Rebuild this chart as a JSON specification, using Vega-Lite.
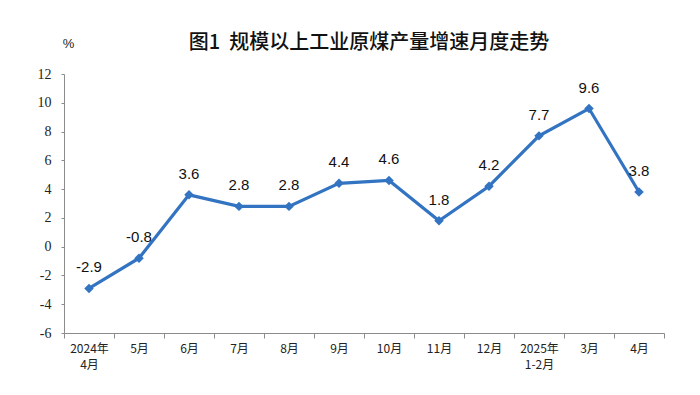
{
  "$schema": "https://vega.github.io/schema/vega-lite/v6.json",
  "width": 600,
  "height": 259,
  "autosize": "none",
  "padding": {"left": 64, "top": 74, "right": 36, "bottom": 62},
  "background": "white",
  "title": {
    "text": "图1\u00a0\u00a0规模以上工业原煤产量增速月度走势",
    "font": "Noto Sans CJK SC",
    "fontSize": 20,
    "fontWeight": 500,
    "color": "#111111",
    "anchor": "middle",
    "dx": 5,
    "offset": -16
  },
  "config": {"view": {"stroke": null}},
  "data": {
    "values": [
      {"m": "2024年\n4月", "v": -2.9},
      {"m": "5月", "v": -0.8},
      {"m": "6月", "v": 3.6},
      {"m": "7月", "v": 2.8},
      {"m": "8月", "v": 2.8},
      {"m": "9月", "v": 4.4},
      {"m": "10月", "v": 4.6},
      {"m": "11月", "v": 1.8},
      {"m": "12月", "v": 4.2},
      {"m": "2025年\n1-2月", "v": 7.7},
      {"m": "3月", "v": 9.6},
      {"m": "4月", "v": 3.8}
    ]
  },
  "encoding": {
    "x": {
      "field": "m",
      "type": "ordinal",
      "sort": null,
      "scale": {"paddingInner": 0, "paddingOuter": 0},
      "axis": {
        "title": null,
        "labelAngle": 0,
        "labelFont": "Noto Sans CJK SC",
        "labelFontSize": 12,
        "labelColor": "#222222",
        "labelExpr": "split(datum.label, '\\n')",
        "labelLineHeight": 16,
        "labelPadding": 5,
        "domainColor": "#8c8c8c",
        "tickColor": "#8c8c8c",
        "tickBand": "extent",
        "tickSize": 5
      }
    },
    "y": {
      "field": "v",
      "type": "quantitative",
      "scale": {"domain": [-6, 12], "nice": false, "zero": false},
      "axis": {
        "values": [-6, -4, -2, 0, 2, 4, 6, 8, 10, 12],
        "labelExpr": "datum.value + ''",
        "grid": false,
        "title": "%",
        "titleAngle": 0,
        "titleFont": "Liberation Sans",
        "titleFontSize": 13,
        "titleFontWeight": "normal",
        "titleColor": "#222222",
        "titleX": 4,
        "titleY": -24,
        "labelFont": "Liberation Serif",
        "labelFontSize": 14,
        "labelColor": "#222222",
        "labelPadding": 10,
        "domainColor": "#8c8c8c",
        "tickColor": "#8c8c8c",
        "tickSize": 3
      }
    }
  },
  "layer": [
    {
      "mark": {"type": "line", "color": "#3273c2", "strokeWidth": 3.2}
    },
    {
      "mark": {"type": "point", "shape": "diamond", "filled": true, "color": "#3273c2", "size": 90, "opacity": 1}
    },
    {
      "mark": {"type": "text", "font": "Liberation Sans", "fontSize": 15, "color": "#111111", "dy": -21, "baseline": "middle"},
      "encoding": {"text": {"field": "v", "type": "nominal"}}
    }
  ]
}
